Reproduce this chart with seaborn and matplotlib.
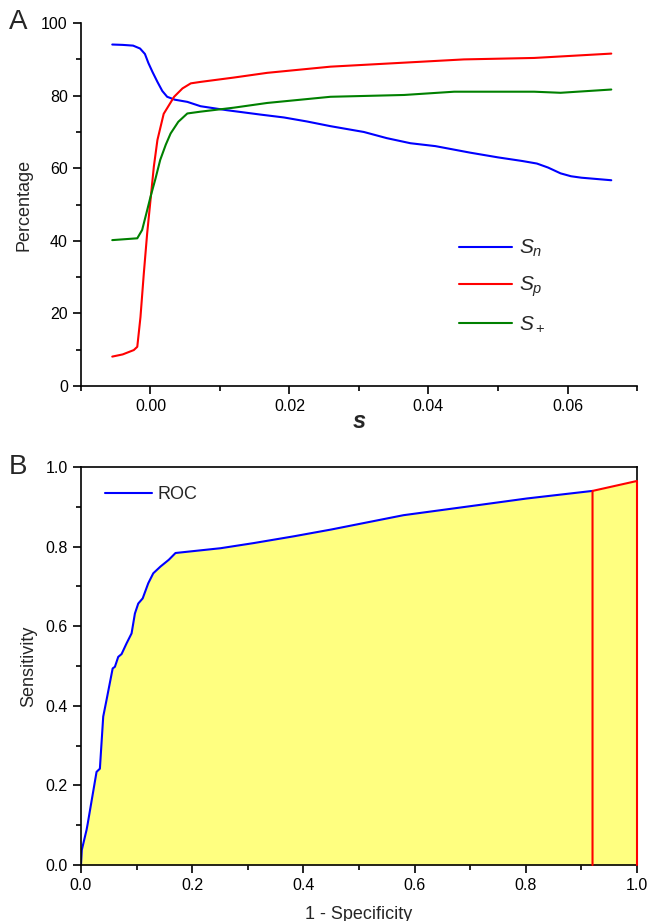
import numpy as np
import pandas as pd
import seaborn as sns
import matplotlib.pyplot as plt
from matplotlib.ticker import MultipleLocator

sns.set_style("ticks")
plt.rcParams['font.family'] = ['Liberation Sans', 'DejaVu Sans']
plt.rcParams['mathtext.fontset'] = 'custom'
plt.rcParams['mathtext.rm'] = 'Liberation Sans'
plt.rcParams['mathtext.it'] = 'Liberation Sans:italic'

# panel A: threshold s vs percentages
sn_s = [-0.0055, -0.004, -0.0025, -0.0015, -0.0008, -0.0003, 0.0003, 0.001, 0.0017,
        0.0024, 0.0035, 0.0053, 0.0072, 0.011, 0.0158, 0.0192, 0.0225, 0.0259,
        0.0307, 0.034, 0.0374, 0.041, 0.046, 0.050, 0.0535, 0.0556, 0.0572,
        0.059, 0.0605, 0.062, 0.0663]
sn_val = [94.1, 94.0, 93.8, 93.0, 91.5, 89.0, 86.5, 83.8, 81.3,
          79.7, 78.9, 78.3, 77.1, 76.0, 74.8, 74.0, 72.9, 71.6,
          70.0, 68.3, 66.9, 66.1, 64.3, 63.0, 62.0, 61.3, 60.2,
          58.6, 57.8, 57.4, 56.7]

sp_s = [-0.0055, -0.004, -0.0024, -0.0019, -0.00144, -0.00096, -0.00048, 0.0,
        0.00048, 0.001, 0.0019, 0.0034, 0.0046, 0.0058, 0.0072, 0.012, 0.0168,
        0.0259, 0.0451, 0.0552, 0.0663]
sp_val = [8.1, 8.7, 9.9, 10.8, 19.0, 31.0, 42.0, 51.2,
          60.4, 67.8, 75.0, 79.7, 82.0, 83.4, 83.8, 85.0, 86.3,
          88.0, 90.0, 90.4, 91.6]

st_s = [-0.0055, -0.0019, -0.0012, -0.0006, 0.0, 0.0007, 0.0014, 0.0022, 0.0029,
        0.004, 0.0053, 0.0072, 0.012, 0.0168, 0.0259, 0.0365, 0.0437, 0.0552,
        0.059, 0.0663]
st_val = [40.2, 40.7, 43.0, 47.5, 52.1, 57.0, 62.3, 66.5, 69.6,
          72.8, 75.1, 75.6, 76.7, 78.0, 79.7, 80.2, 81.1, 81.1,
          80.8, 81.7]

# panel B: ROC curve
roc_fpr = [0.0, 0.0015, 0.010, 0.012, 0.028, 0.034, 0.040, 0.046, 0.057, 0.061,
           0.067, 0.073, 0.082, 0.091, 0.097, 0.103, 0.111, 0.121, 0.130, 0.143,
           0.158, 0.170, 0.197, 0.251, 0.311, 0.383, 0.450, 0.580, 0.718, 0.802, 0.920]
roc_tpr = [0.0, 0.038, 0.088, 0.103, 0.234, 0.242, 0.373, 0.415, 0.494, 0.498,
           0.523, 0.530, 0.557, 0.582, 0.632, 0.657, 0.670, 0.708, 0.733, 0.750,
           0.767, 0.784, 0.788, 0.796, 0.809, 0.826, 0.843, 0.879, 0.905, 0.921, 0.940]
red_fpr = [0.920, 0.920, 1.0, 1.0]
red_tpr = [0.0, 0.940, 0.965, 0.0]

labels = [r'$S_n$', r'$S_p$', r'$S_+$']
colors = {labels[0]: '#0000ff', labels[1]: '#ff0000', labels[2]: '#008000'}

dfA = pd.concat([
    pd.DataFrame({'s': sn_s, 'pct': sn_val, 'measure': labels[0]}),
    pd.DataFrame({'s': sp_s, 'pct': sp_val, 'measure': labels[1]}),
    pd.DataFrame({'s': st_s, 'pct': st_val, 'measure': labels[2]}),
])

fig = plt.figure(figsize=(6.52, 9.21), dpi=100)
axA = fig.add_axes([0.1242, 0.5809, 0.8528, 0.394])
axB = fig.add_axes([0.1242, 0.0608, 0.8528, 0.4321])

sns.lineplot(data=dfA, x='s', y='pct', hue='measure', hue_order=labels,
             palette=colors, linewidth=1.5, estimator=None, ax=axA)
axA.set_xlim(-0.01, 0.07)
axA.set_ylim(0, 100)
axA.xaxis.set_major_locator(MultipleLocator(0.02))
axA.xaxis.set_minor_locator(MultipleLocator(0.01))
axA.yaxis.set_major_locator(MultipleLocator(20))
axA.yaxis.set_minor_locator(MultipleLocator(10))
axA.set_xticks([0.0, 0.02, 0.04, 0.06])
axA.set_xticklabels(['0.00', '0.02', '0.04', '0.06'])
axA.set_xlabel('s', fontsize=17, fontweight='bold', fontstyle='italic', labelpad=-3)
axA.set_ylabel('Percentage', fontsize=13, labelpad=6)
sns.despine(ax=axA)
sns.move_legend(axA, 'upper left', bbox_to_anchor=(0.68, 0.408), frameon=False,
                title=None, fontsize=15, handlelength=2.55, handletextpad=0.35,
                labelspacing=0.75, borderpad=0, borderaxespad=0)

axB.fill_between(roc_fpr + [1.0], roc_tpr + [0.965], color='#ffff80', lw=0)
sns.lineplot(x=roc_fpr, y=roc_tpr, color='#0000ff', linewidth=1.5, sort=False,
             estimator=None, label='ROC', ax=axB)
sns.lineplot(x=red_fpr, y=red_tpr, color='#ff0000', linewidth=1.5, sort=False,
             estimator=None, clip_on=False, zorder=4, ax=axB)
axB.set_xlim(0, 1)
axB.set_ylim(0, 1)
axB.xaxis.set_major_locator(MultipleLocator(0.2))
axB.xaxis.set_minor_locator(MultipleLocator(0.1))
axB.yaxis.set_major_locator(MultipleLocator(0.2))
axB.yaxis.set_minor_locator(MultipleLocator(0.1))
axB.set_xlabel('1 - Specificity', fontsize=13, labelpad=9)
axB.set_ylabel('Sensitivity', fontsize=13, labelpad=6)
axB.legend(loc='upper left', bbox_to_anchor=(0.043, 0.952), frameon=False,
           fontsize=13, handlelength=2.6, handletextpad=0.3,
           borderpad=0, borderaxespad=0)

for ax in (axA, axB):
    ax.tick_params(which='both', direction='out', width=1.2, colors='black',
                   labelsize=11.5)
    ax.tick_params(which='major', length=6)
    ax.tick_params(which='minor', length=3.5)
    for sp in ax.spines.values():
        sp.set_linewidth(1.2)
        sp.set_color('black')
    ax.grid(False)

fig.text(0.028, 0.976, 'A', fontsize=20, ha='center', va='center')
fig.text(0.028, 0.493, 'B', fontsize=20, ha='center', va='center')

fig.savefig('out.png', dpi=100)
